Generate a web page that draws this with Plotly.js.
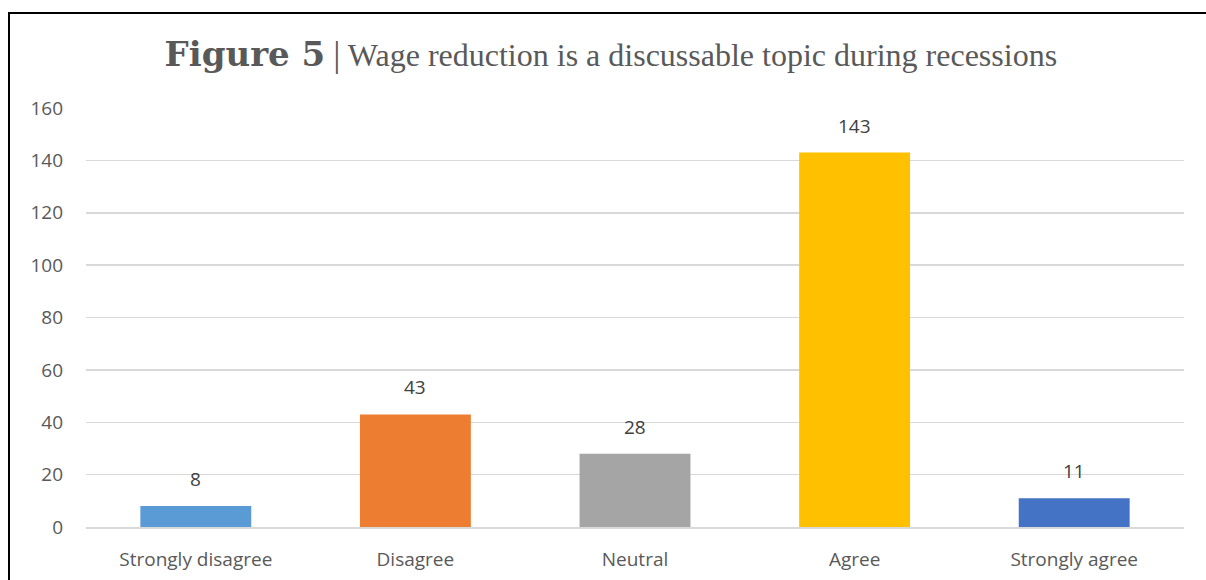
<!DOCTYPE html>
<html>
<head>
<meta charset="utf-8">
<script src="https://cdn.plot.ly/plotly-3.0.1.min.js"></script>
<style>
html,body{margin:0;padding:0;background:#fff;}
#wrap{position:absolute;left:0;top:0;width:1206px;height:580px;}
#frame{position:absolute;left:8px;top:12px;width:1198px;height:568px;border-left:2px solid #000;border-top:2px solid #000;pointer-events:none;}
#chart{position:absolute;left:0;top:0;width:1206px;height:580px;}
</style>
</head>
<body>
<div id="wrap">
<div id="chart"></div>
<div id="frame"></div>
</div>
<script>
const categories = ["Strongly disagree", "Disagree", "Neutral", "Agree", "Strongly agree"];
const values = [8, 43, 28, 143, 11];
const barColors = ["#5B9BD5", "#ED7D31", "#A5A5A5", "#FFC000", "#4472C4"];
const yTicks = [0, 20, 40, 60, 80, 100, 120, 140, 160];

const trace = {
  type: "bar",
  x: categories,
  y: values,
  marker: {color: barColors, line: {width: 0}},
  hoverinfo: "x+y"
};

const annotations = categories.map((c, i) => ({
  x: c, y: values[i], xref: "x", yref: "y",
  text: String(values[i]), showarrow: false,
  yanchor: "bottom", yshift: 12,
  font: {family: "'Open Sans', sans-serif", size: 19, color: "#404040"}
}));

const layout = {
  width: 1206, height: 580,
  margin: {l: 86, r: 22, t: 108, b: 53},
  paper_bgcolor: "rgba(0,0,0,0)",
  plot_bgcolor: "rgba(0,0,0,0)",
  bargap: 0.495,
  showlegend: false,
  title: {
    text: "<b><span style='font-family:DejaVu Serif;font-size:34px'>Figure 5</span></b> <span style='font-size:36px'>|</span> Wage reduction is a discussable topic during recessions",
    font: {family: "Liberation Serif, serif", size: 32, color: "#595959"},
    x: 0.478, xanchor: "center", xref: "paper",
    y: 0.905, yanchor: "middle", yref: "container"
  },
  xaxis: {
    type: "category",
    showgrid: false,
    showline: true, linecolor: "#d9d9d9", linewidth: 1.5,
    ticks: "", ticklabelstandoff: 15,
    tickfont: {family: "'Open Sans', sans-serif", size: 19, color: "#595959"},
    fixedrange: true
  },
  yaxis: {
    range: [0, 160],
    tickvals: yTicks,
    ticktext: yTicks.map(String),
    showgrid: true, gridcolor: "#d9d9d9", gridwidth: 1.5,
    zeroline: false, showline: false,
    ticks: "", ticklabelstandoff: 22,
    tickfont: {family: "'Open Sans', sans-serif", size: 19, color: "#595959"},
    fixedrange: true
  },
  annotations: annotations
};

Plotly.newPlot("chart", [trace], layout, {displayModeBar: false, staticPlot: true});
</script>
</body>
</html>
